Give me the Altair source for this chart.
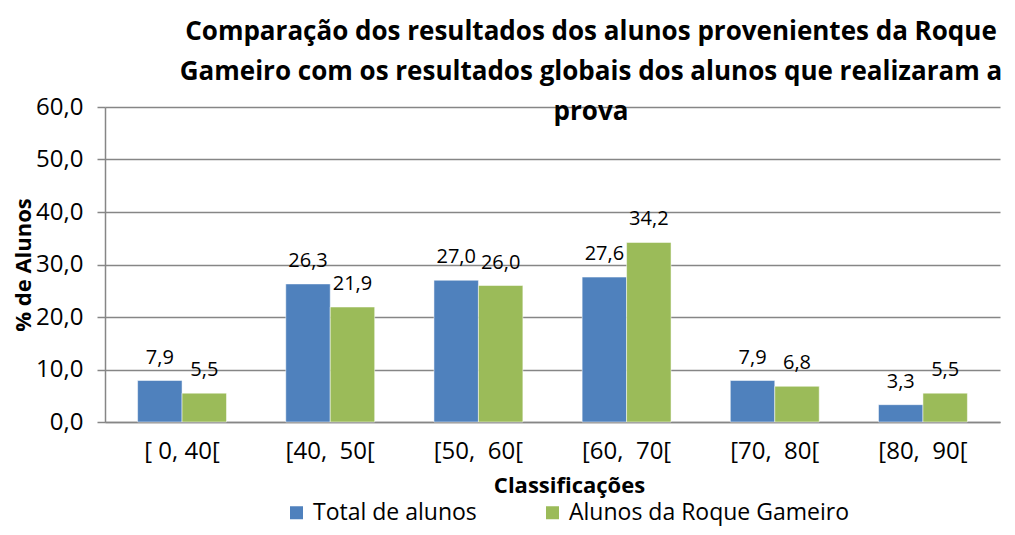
import altair as alt
import pandas as pd

categories = ["[ 0, 40[", "[40,\u00a0 50[", "[50,\u00a0 60[", "[60,\u00a0 70[", "[70,\u00a0 80[", "[80,\u00a0 90["]
series = ["Total de alunos", "Alunos da Roque Gameiro"]
total = [7.9, 26.3, 27.0, 27.6, 7.9, 3.3]
roque = [5.5, 21.9, 26.0, 34.2, 6.8, 5.5]
y_ticks = [0, 10, 20, 30, 40, 50, 60]
colors = ["#4F81BD", "#9BBB59"]
title_lines = [
    "Comparação dos resultados dos alunos provenientes da Roque",
    "Gameiro com os resultados globais dos alunos que realizaram a",
    "prova",
]

rows = []
for i, c in enumerate(categories):
    rows.append({"cat": c, "serie": series[0], "valor": total[i]})
    rows.append({"cat": c, "serie": series[1], "valor": roque[i]})
df = pd.DataFrame(rows)
df["rotulo"] = df["valor"].map(lambda v: f"{v:.1f}".replace(".", ","))

FONT = "Open Sans"
GRAY = "#868686"

base = alt.Chart(df).encode(
    x=alt.X(
        "cat:N",
        sort=categories,
        scale=alt.Scale(paddingInner=0.4, paddingOuter=0.22),
        axis=alt.Axis(
            title="Classificações",
            labelAngle=0,
            ticks=False,
            grid=False,
            domainColor=GRAY,
            domainWidth=1.5,
            labelFontSize=24,
            labelColor="black",
            labelPadding=17,
            titleFontSize=22,
            titleFontWeight="bold",
            titleColor="black",
            titleX=464,
            titleY=63,
            titleBaseline="middle",
        ),
    ),
    xOffset=alt.XOffset("serie:N", sort=series, scale=alt.Scale(paddingInner=0, paddingOuter=0)),
)

bars = base.mark_bar(stroke="white", strokeWidth=0.5).encode(
    y=alt.Y(
        "valor:Q",
        scale=alt.Scale(domain=[0, 60], nice=False),
        axis=alt.Axis(
            title="% de Alunos",
            values=y_ticks,
            labelExpr="replace(format(datum.value, '.1f'), '.', ',')",
            labelFontSize=24,
            labelColor="black",
            labelPadding=14,
            tickSize=8,
            tickColor=GRAY,
            tickWidth=1.5,
            domainColor=GRAY,
            domainWidth=1.5,
            gridColor=GRAY,
            gridWidth=1.5,
            titleFontSize=22,
            titleFontWeight="bold",
            titleColor="black",
            titleX=-82,
            titleY=157.5,
            titleAngle=270,
            titleAlign="center",
            titleBaseline="middle",
        ),
    ),
    color=alt.Color(
        "serie:N",
        sort=series,
        scale=alt.Scale(domain=series, range=colors),
        legend=alt.Legend(
            title=None,
            orient="none",
            legendX=180,
            legendY=394,
            direction="horizontal",
            symbolType="square",
            symbolSize=169,
            symbolStrokeWidth=0,
            labelFontSize=23,
            labelColor="black",
            labelLimit=500,
            labelOffset=5,
            columnPadding=64,
        ),
    ),
)

labels = base.mark_text(baseline="alphabetic", dy=-17, fontSize=20, font=FONT, color="black").encode(
    y=alt.Y("valor:Q"),
    text="rotulo:N",
)

title = alt.Chart(pd.DataFrame({"t": ["\n".join(title_lines)]})).mark_text(
    lineBreak="\n",
    lineHeight=40,
    fontSize=26,
    fontWeight="bold",
    font=FONT,
    color="black",
    align="center",
    baseline="top",
).encode(
    x=alt.value(486),
    y=alt.value(-88),
    text="t:N",
)

chart = (
    alt.layer(bars, labels, title)
    .properties(
        width=895,
        height=315,
        autosize=alt.AutoSizeParams(type="none"),
        padding={"left": 97, "top": 99, "right": 5, "bottom": 105},
    )
    .configure(font=FONT)
    .configure_view(stroke=None)
)

chart.save("out.html", embed_options={"renderer": "svg", "actions": False})
